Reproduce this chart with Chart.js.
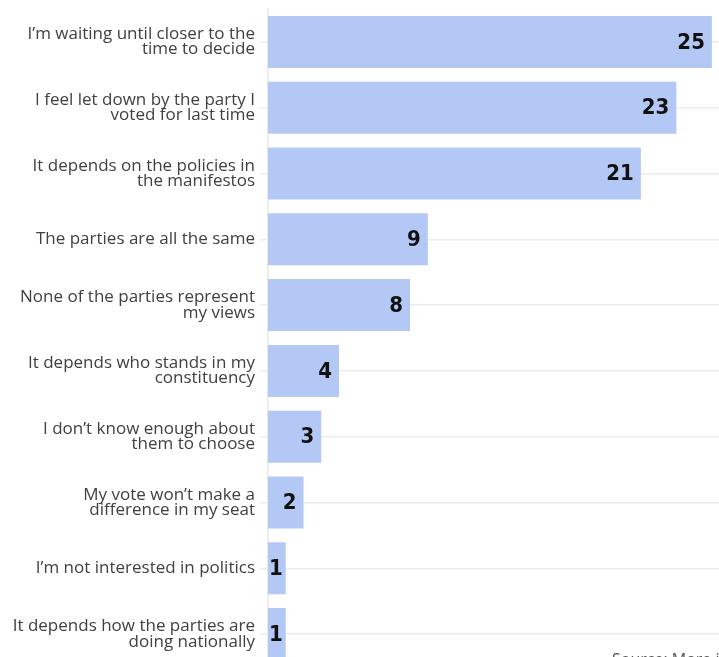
<!DOCTYPE html>
<html>
<head>
<meta charset="utf-8">
<script src="https://cdn.jsdelivr.net/npm/chart.js@4/dist/chart.umd.min.js"></script>
<style>
  html, body { margin: 0; padding: 0; background: #ffffff; overflow: hidden; }
  #wrap { position: relative; width: 719px; height: 680px; }
  #source { position: absolute; left: 612px; top: 648px; font: 16px "Open Sans", sans-serif; color: #555; white-space: nowrap; }
</style>
</head>
<body>
<div id="wrap">
  <canvas id="c"></canvas>
  <div id="source">Source: More in Common</div>
</div>
<script>
// Reasons given for being undecided (%)
const reasons = [
  ["I\u2019m waiting until closer to the", "time to decide"],
  ["I feel let down by the party I", "voted for last time"],
  ["It depends on the policies in", "the manifestos"],
  ["The parties are all the same"],
  ["None of the parties represent", "my views"],
  ["It depends who stands in my", "constituency"],
  ["I don\u2019t know enough about", "them to choose"],
  ["My vote won\u2019t make a", "difference in my seat"],
  ["I\u2019m not interested in politics"],
  ["It depends how the parties are", "doing nationally"]
];
const shares = [25, 23, 21, 9, 8, 4, 3, 2, 1, 1];

// Bold value label written just inside the end of each bar
const valueLabels = {
  id: 'valueLabels',
  afterDatasetsDraw(chart) {
    const ctx = chart.ctx;
    const meta = chart.getDatasetMeta(0);
    ctx.save();
    ctx.font = 'bold 22px "Liberation Sans Narrow", "DejaVu Sans Condensed", sans-serif';
    ctx.fillStyle = '#111111';
    ctx.textAlign = 'right';
    ctx.textBaseline = 'middle';
    meta.data.forEach((bar, i) => {
      const w = ctx.measureText(String(shares[i])).width;
      const right = Math.max(bar.x - 7, bar.base + w + 1);
      ctx.fillText(String(shares[i]), right, bar.y + 1);
    });
    ctx.restore();
  }
};

new Chart(document.getElementById('c'), {
  type: 'bar',
  data: {
    labels: reasons,
    datasets: [{
      data: shares,
      backgroundColor: '#b4c8f6',
      borderWidth: 0,
      categoryPercentage: 0.79,
      barPercentage: 1.0
    }]
  },
  options: {
    indexAxis: 'y',
    responsive: true,
    maintainAspectRatio: false,
    animation: false,
    layout: { padding: { top: 9, bottom: 13, left: 0, right: 0 } },
    plugins: { legend: { display: false }, tooltip: { enabled: false } },
    scales: {
      x: {
        display: false,
        min: 0,
        max: 25.4
      },
      y: {
        afterFit(scale) {
          scale.width = 268;
          scale.paddingTop = 0;
          scale.paddingBottom = 0;
        },
        grid: {
          color: '#ececec',
          lineWidth: 1.5,
          drawTicks: true,
          tickLength: 8,
          offset: false
        },
        border: { display: true, color: '#e8e8e8', width: 1.5 },
        ticks: {
          color: '#404040',
          padding: 5,
          font: { family: '"Open Sans", sans-serif', size: 17, lineHeight: 0.9 }
        }
      }
    }
  },
  plugins: [valueLabels]
});
</script>
</body>
</html>
